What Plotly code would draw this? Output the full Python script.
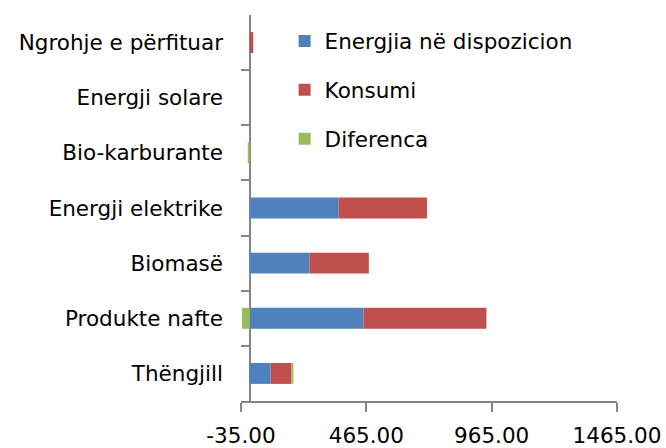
import plotly.graph_objects as go

categories = ["Thëngjill", "Produkte nafte", "Biomasë", "Energji elektrike",
              "Bio-karburante", "Energji solare", "Ngrohje e përfituar"]
energjia = [83, 453, 238, 354, 0, 0, 0]
konsumi = [83, 491, 237, 353, 0, 0, 14]
diferenca = [8, -31, 0, 0, -8, 0, 0]
tick_vals = [-35, 465, 965, 1465]
tick_text = ["-35.00", "465.00", "965.00", "1465.00"]

fig = go.Figure()
series = [("Energjia në dispozicion", energjia, "#4F81BD"),
          ("Konsumi", konsumi, "#C0504D"),
          ("Diferenca", diferenca, "#9BBB59")]
for name, vals, col in series:
    fig.add_trace(go.Bar(y=categories, x=vals, name=name, orientation="h",
                         marker=dict(color=col, line=dict(width=0)),
                         legendgroup=name))

fig.update_layout(
    barmode="relative",
    bargap=0.62,
    width=666, height=448,
    margin=dict(l=241, r=49, t=15, b=47),
    paper_bgcolor="white", plot_bgcolor="white",
    font=dict(family="DejaVu Sans, sans-serif", size=21.5, color="#000000"),
    showlegend=True,
    legend=dict(x=0.116, y=0.986, xanchor="left", yanchor="top",
                font=dict(size=21.5), tracegroupgap=18,
                itemwidth=30, bgcolor="rgba(0,0,0,0)"),
    xaxis=dict(range=[-35, 1465], tickvals=tick_vals, ticktext=tick_text,
               showgrid=False, zeroline=True, zerolinecolor="#868686",
               zerolinewidth=2, showline=True, linecolor="#868686", linewidth=2,
               ticks="outside", ticklen=9, tickcolor="#868686", tickwidth=2,
               ticklabelstandoff=5, automargin=False),
    yaxis=dict(categoryorder="array", categoryarray=categories,
               showgrid=False, showline=False, ticks="inside", ticklen=9,
               tickcolor="#868686", tickwidth=2, tickson="boundaries",
               ticklabelstandoff=17, automargin=False),
)

fig.write_html("out.html", config={"displayModeBar": False},
               post_script="document.body.style.margin='0';document.body.style.overflow='hidden';")
